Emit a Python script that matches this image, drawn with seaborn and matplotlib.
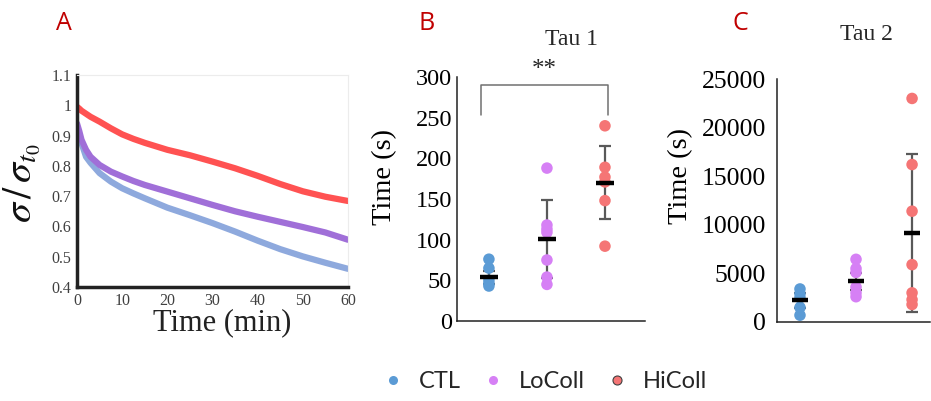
import numpy as np
import pandas as pd
import matplotlib
matplotlib.use("Agg")
import matplotlib.pyplot as plt
from matplotlib.lines import Line2D
import seaborn as sns

# ---------------- data ----------------
groups = ["CTL", "LoColl", "HiColl"]
point_colors = ["#5B9BD5", "#D680F5", "#F57575"]

# Panel A: relaxation curves
time_min = [0, 0.5, 1, 2, 3, 5, 7.5, 10, 12.5, 15, 20, 25, 30, 35, 40, 45, 50, 55, 60]
ctl_curve = [0.93, 0.90, 0.875, 0.83, 0.81, 0.776, 0.748, 0.726, 0.709, 0.693, 0.662,
             0.637, 0.611, 0.583, 0.553, 0.525, 0.501, 0.480, 0.46]
lo_curve = [0.94, 0.915, 0.886, 0.853, 0.83, 0.803, 0.781, 0.765, 0.750, 0.737, 0.715,
            0.693, 0.671, 0.650, 0.632, 0.615, 0.598, 0.580, 0.556]
hi_curve = [0.995, 0.989, 0.982, 0.972, 0.962, 0.946, 0.924, 0.904, 0.889, 0.876, 0.853,
            0.835, 0.814, 0.792, 0.767, 0.740, 0.716, 0.698, 0.684]
curve_colors = ["#8EA9DD", "#A06FD8", "#FF5252"]

# Panel B: Tau 1 (s)
tau1_ctl = [76, 65, 50, 46, 43]
tau1_lo = [188, 118, 113, 109, 75, 54, 45]
tau1_hi = [240, 189, 177, 171, 148, 92]
tau1_mean = [54, 101, 170]
tau1_err = [8, 48, 45]

# Panel C: Tau 2 (s)
tau2_ctl = [3400, 2900, 2500, 1500, 700]
tau2_lo = [6450, 5500, 5100, 3600, 3000, 2600]
tau2_hi = [23000, 16200, 11400, 5900, 3000, 2300, 1800]
tau2_mean = [2230, 4190, 9170]
tau2_err = [800, 900, 8140]

a_yticks = [0.4, 0.5, 0.6, 0.7, 0.8, 0.9, 1.0, 1.1]
a_yticklabels = ["0.4", "0.5", "0.6", "0.7", "0.8", "0.9", "1", "1.1"]
a_xticks = [0, 10, 20, 30, 40, 50, 60]
b_yticks = [0, 50, 100, 150, 200, 250, 300]
c_yticks = [0, 5000, 10000, 15000, 20000, 25000]

# ---------------- style ----------------
sns.set_theme(style="white")
plt.rcParams["font.family"] = ["Liberation Serif", "DejaVu Serif"]
plt.rcParams["mathtext.fontset"] = "stix"

fig = plt.figure(figsize=(9.31, 4.01), dpi=100)
W, H = 931, 401

def add_ax(l, t, r, b):
    return fig.add_axes([l / W, 1 - b / H, (r - l) / W, (b - t) / H])

axA = add_ax(77, 75, 348, 287)
axB = add_ax(457, 77, 645, 321)
axC = add_ax(777, 79, 930, 322)

# ---------------- Panel A ----------------
dfA = pd.DataFrame({
    "t": time_min * 3,
    "v": ctl_curve + lo_curve + hi_curve,
    "g": ["CTL"] * len(time_min) + ["LoColl"] * len(time_min) + ["HiColl"] * len(time_min),
})
sns.lineplot(data=dfA, x="t", y="v", hue="g", palette=dict(zip(groups, curve_colors)),
             linewidth=4.5, legend=False, ax=axA, estimator=None)
axA.set_xlim(0, 60)
axA.set_ylim(0.4, 1.1)
axA.set_xticks(a_xticks)
axA.set_yticks(a_yticks)
axA.set_yticklabels(a_yticklabels)
axA.tick_params(axis="both", direction="in", length=3, width=1.5, color="#222222",
                labelsize=11.5, labelcolor="#404040", pad=4)
for s in ["left", "bottom"]:
    axA.spines[s].set_color("#222222")
    axA.spines[s].set_linewidth(2.5)
for s in ["top", "right"]:
    axA.spines[s].set_color("#ececec")
    axA.spines[s].set_linewidth(0.8)
axA.set_xlabel("Time (min)", fontsize=22, color="#222222")
axA.xaxis.set_label_coords(0.535, -0.10)
axA.set_ylabel(r"$\sigma\,/\,\sigma_{t_0}$", fontsize=29, color="#111111")
axA.yaxis.set_label_coords(-0.13, 0.49)

# ---------------- Panels B and C ----------------
def dot_panel(ax, lists, means, errs, yticks, ylim, xlim, tsize, tpad):
    vals, grp = [], []
    for g, lst in zip(groups, lists):
        vals += lst
        grp += [g] * len(lst)
    df = pd.DataFrame({"g": grp, "v": vals})
    xs = np.arange(len(groups))
    ax.errorbar(xs, means, yerr=errs, fmt="none", ecolor="#595959", elinewidth=1.6,
                capsize=4.5, capthick=1.6, zorder=1)
    sns.stripplot(data=df, x="g", y="v", hue="g", order=groups, hue_order=groups,
                  palette=point_colors, jitter=False, size=8.3, linewidth=0,
                  legend=False, ax=ax, zorder=2)
    ax.hlines(means, xs - 0.15, xs + 0.15, color="black", linewidth=3.2, zorder=3)
    ax.set_xlim(*xlim)
    ax.set_ylim(*ylim)
    ax.set_yticks(yticks)
    ax.set_xticks([])
    ax.set_xlabel("")
    ax.tick_params(axis="y", length=0, labelsize=tsize, pad=tpad, labelcolor="black")
    for s in ["top", "right"]:
        ax.spines[s].set_visible(False)
    for s in ["left", "bottom"]:
        ax.spines[s].set_color("#222222")
        ax.spines[s].set_linewidth(1.1)
    ax.set_ylabel("Time (s)", fontsize=20.5, color="black")

dot_panel(axB, [tau1_ctl, tau1_lo, tau1_hi], tau1_mean, tau1_err, b_yticks,
          (0, 300), (-0.55, 2.69), 17.5, 3.5)
axB.yaxis.set_label_coords(-0.32, 0.59)
axB.text(0.61, 1.155, "Tau 1", transform=axB.transAxes, ha="center", va="center",
         fontsize=17)
# significance bracket
axB.plot([-0.14, -0.14, 2.05, 2.05], [253, 290, 290, 253], color="#707070", lw=1.1,
         clip_on=False)
axB.text(0.955, 309, "**", ha="center", va="center", fontsize=18, clip_on=False)

dot_panel(axC, [tau2_ctl, tau2_lo, tau2_hi], tau2_mean, tau2_err, c_yticks,
          (0, 25000), (-0.41, 2.32), 18.5, 8)
axC.yaxis.set_label_coords(-0.55, 0.6)
axC.text(0.586, 1.185, "Tau 2", transform=axC.transAxes, ha="center", va="center",
         fontsize=17)

# ---------------- panel letters ----------------
for x, lab in [(64, "A"), (427, "B"), (740, "C")]:
    fig.text(x / W, 1 - 24 / H, lab, ha="center", va="center", color="#C00000",
             fontsize=18, family=["Open Sans", "DejaVu Sans"])

# ---------------- legend ----------------
handles = [
    Line2D([], [], marker="o", linestyle="none", markersize=6.5,
           markerfacecolor=point_colors[0], markeredgewidth=0),
    Line2D([], [], marker="o", linestyle="none", markersize=6.5,
           markerfacecolor=point_colors[1], markeredgewidth=0),
    Line2D([], [], marker="o", linestyle="none", markersize=6.5,
           markerfacecolor=point_colors[2], markeredgecolor="#404040",
           markeredgewidth=0.8),
]
fig.legend(handles, groups, loc="center", bbox_to_anchor=(544 / W, 1 - 382 / H),
           ncol=3, frameon=False, handlelength=1.0, handletextpad=0.6,
           columnspacing=0.85, prop={"family": ["Lato", "DejaVu Sans"], "size": 17})

fig.savefig("out.png", dpi=100)
